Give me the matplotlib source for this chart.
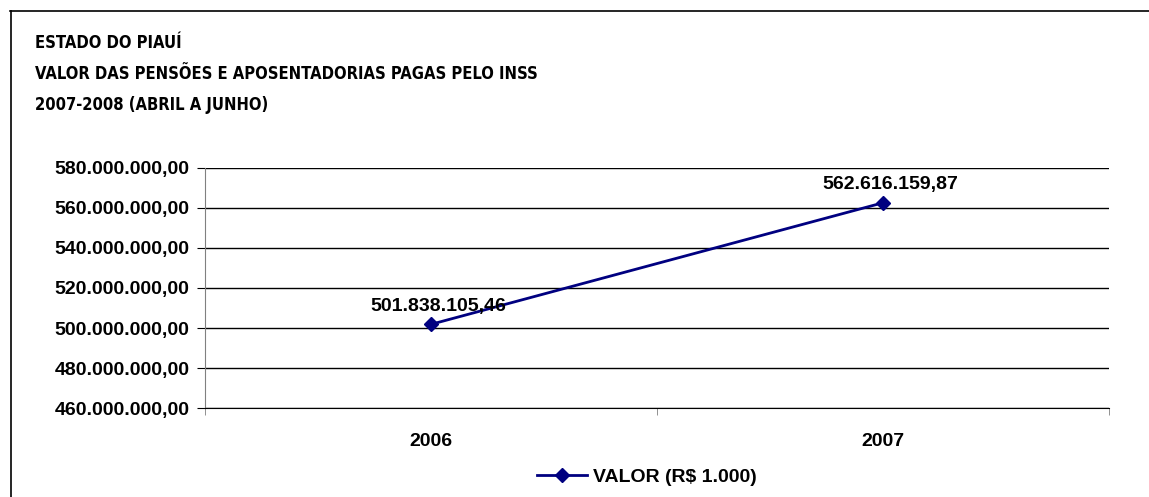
import matplotlib.pyplot as plt
from matplotlib import font_manager as fm
from matplotlib.lines import Line2D
from matplotlib.ticker import FuncFormatter, FixedLocator

# data
anos = ["2006", "2007"]
valores = [501838105.46, 562616159.87]
serie_nome = "VALOR (R$ 1.000)"
titulo = ["ESTADO DO PIAUÍ",
          "VALOR DAS PENSÕES E APOSENTADORIAS PAGAS PELO INSS",
          "2007-2008 (ABRIL A JUNHO)"]

plt.rcParams['font.family'] = ['Liberation Sans', 'DejaVu Sans']
plt.rcParams['font.weight'] = 'bold'

# narrow bold face for the title: Liberation Narrow first, then DejaVu Condensed
fonts = fm.findSystemFonts()
lib_narrow = [f for f in fonts if 'LiberationSansNarrow-Bold.' in f]
dv_cond = [f for f in fonts if 'DejaVuSansCondensed-Bold.' in f]
if lib_narrow:
    title_font = fm.FontProperties(fname=lib_narrow[0], size=14.3)
elif dv_cond:
    title_font = fm.FontProperties(fname=dv_cond[0], size=11.9)
else:
    title_font = fm.FontProperties(family='Liberation Sans', weight='bold', size=11.7)

W, H = 1149, 497
fig = plt.figure(figsize=(W / 100, H / 100), dpi=100)

# outer frame (left and top only are visible)
fig.add_artist(Line2D([10.5 / W, 10.5 / W], [0, 1 - 11 / H], transform=fig.transFigure,
                      color='black', lw=1.2))
fig.add_artist(Line2D([10 / W, 1], [1 - 11 / H, 1 - 11 / H], transform=fig.transFigure,
                      color='black', lw=1.2))

# title
for i, t in enumerate(titulo):
    fig.text(35 / W, 1 - (43 + 31 * i) / H, t, fontproperties=title_font,
             va='center', ha='left')

left, right, top, bottom = 205, 1109, 168, 408
ax = fig.add_axes([left / W, 1 - bottom / H, (right - left) / W, (bottom - top) / H])

x = list(range(len(anos)))
line, = ax.plot(x, valores, color='#000080', lw=2, marker='D', ms=7,
                markerfacecolor='#000080', markeredgecolor='#000080', label=serie_nome)

def fmt(v):
    s = f"{v:,.2f}"
    return s.replace(',', 'X').replace('.', ',').replace('X', '.')

for xi, v in zip(x, valores):
    ax.annotate(fmt(v), (xi, v), xytext=(5, 13), textcoords='offset points',
                ha='center', va='center', fontsize=14, fontweight='bold')

ax.set_xlim(-0.5, len(anos) - 0.5)
ax.set_ylim(460e6, 580e6)
ax.set_yticks([460e6 + 20e6 * k for k in range(7)])
ax.yaxis.set_major_formatter(FuncFormatter(lambda v, p: fmt(v)))
ax.set_xticks(x)
ax.set_xticklabels(anos)
ax.xaxis.set_minor_locator(FixedLocator([-0.5, 0.5, 1.5]))
ax.tick_params(axis='x', which='major', length=0, pad=18, labelsize=14)
ax.tick_params(axis='x', which='minor', length=5, direction='out', color='#808080')
ax.tick_params(axis='y', length=6, direction='out', labelsize=14, pad=5)

ax.grid(axis='y', color='black', lw=1)
ax.set_axisbelow(True)
for s in ['top', 'right']:
    ax.spines[s].set_visible(False)
ax.spines['left'].set_color('#808080')
ax.spines['bottom'].set_color('black')

fig.legend(handles=[line], loc='center', bbox_to_anchor=(647 / W, 1 - 477 / H),
           frameon=False, handlelength=2.6, handletextpad=0.3,
           prop={'weight': 'bold', 'size': 14})

fig.savefig('out.png', dpi=100)
